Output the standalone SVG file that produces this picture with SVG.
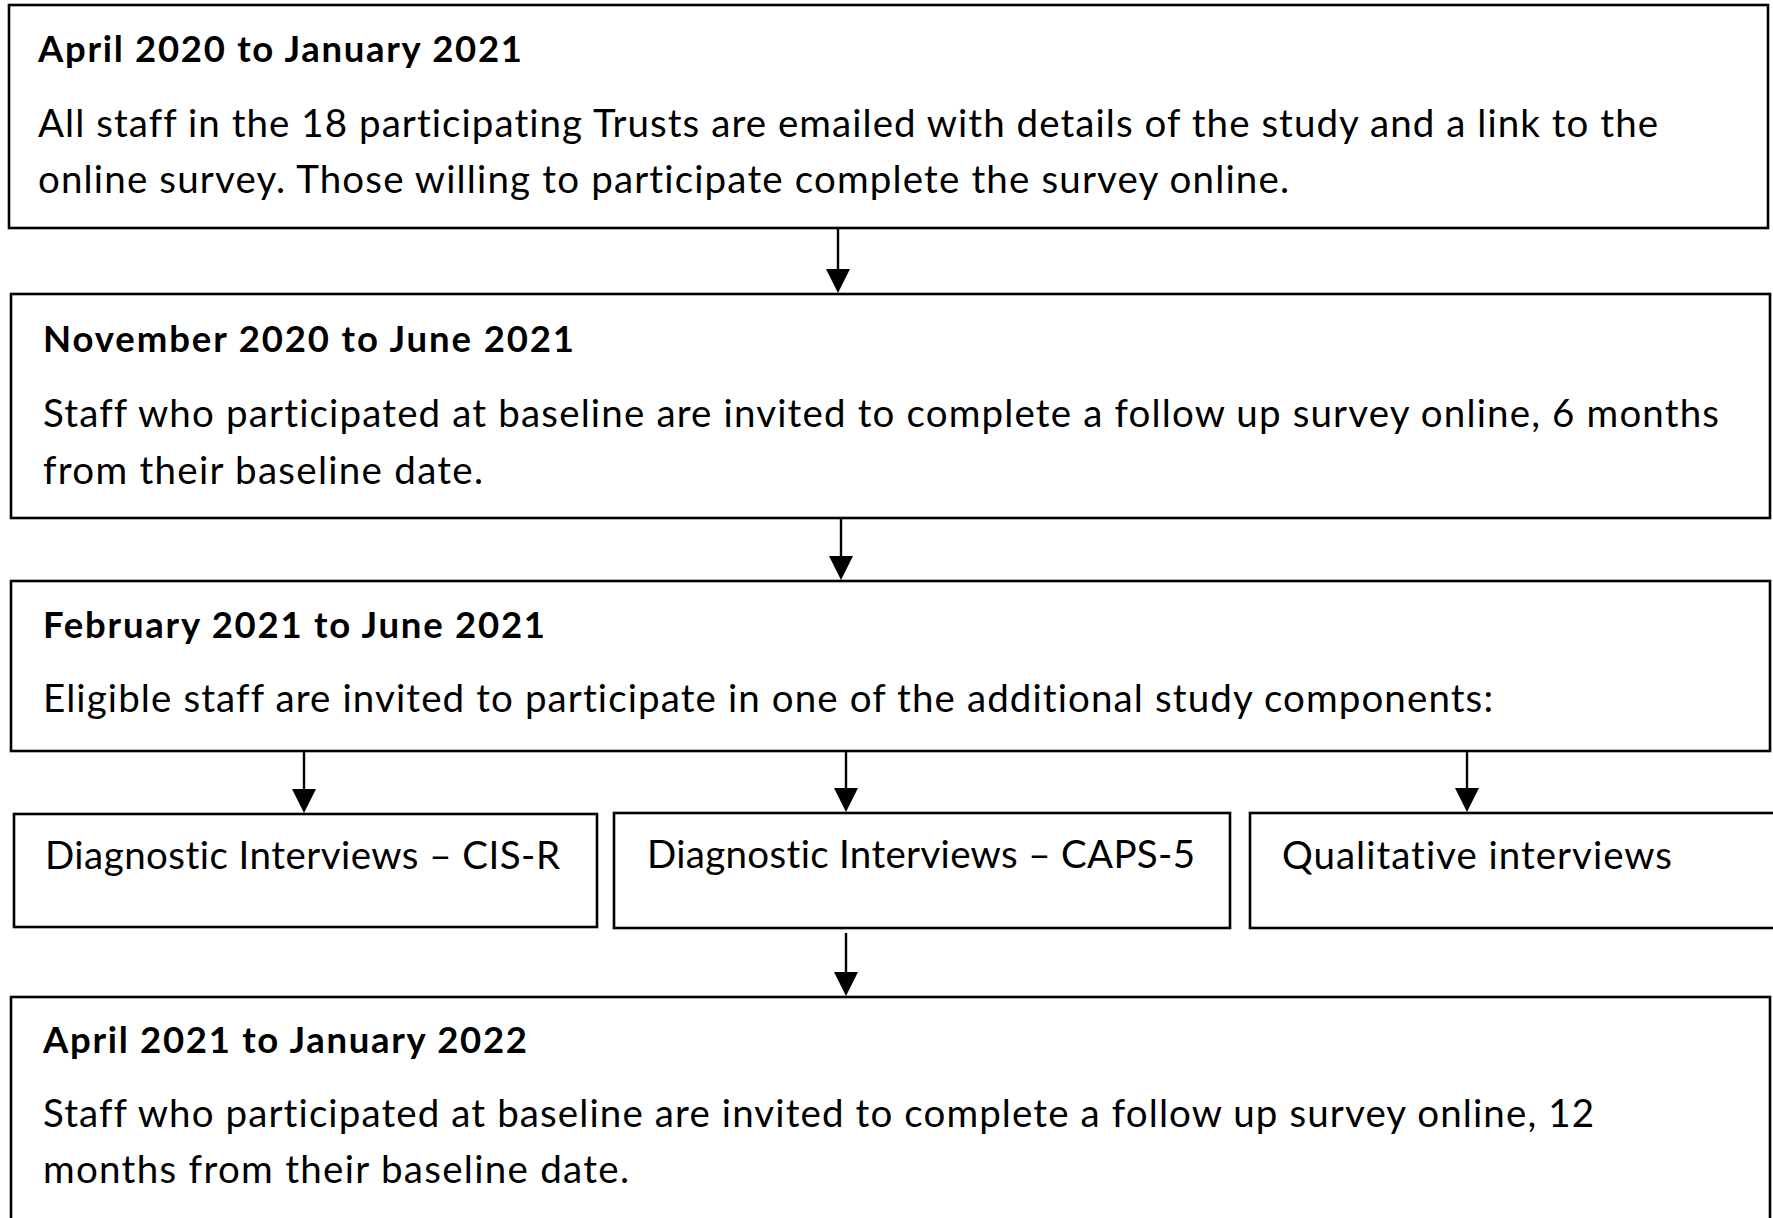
<svg xmlns="http://www.w3.org/2000/svg" width="1773" height="1218" viewBox="0 0 1773 1218">
<style>
.box{fill:#fff;stroke:#000;stroke-width:2.6}
.t{font-family:Lato,"Open Sans","Liberation Sans",sans-serif;font-size:38.5px;fill:#000;font-variant-ligatures:none}
.b{font-weight:bold;font-size:36.5px}
.c{stroke:#000;stroke-width:2.4;fill:none;marker-end:url(#ah)}
</style>
<defs>
<marker id="ah" markerUnits="userSpaceOnUse" markerWidth="24" markerHeight="24" viewBox="0 0 24 24" refX="4" refY="12" orient="auto">
<path d="M0,0 L24,12 L0,24 Z" fill="#000"/>
</marker>
</defs>
<rect width="1773" height="1218" fill="#fff"/>
<g id="n1">
<rect class="box" x="9" y="5" width="1759" height="223"/>
<text class="t b" x="38" y="62" textLength="484" lengthAdjust="spacing">April 2020 to January 2021</text>
<text class="t" x="38" y="137" textLength="1620" lengthAdjust="spacing">All staff in the 18 participating Trusts are emailed with details of the study and a link to the</text>
<text class="t" x="38" y="193" textLength="1251" lengthAdjust="spacing">online survey. Those willing to participate complete the survey online.</text>
</g>
<g id="n2">
<rect class="box" x="11" y="294" width="1759" height="224"/>
<text class="t b" x="43" y="352" textLength="531" lengthAdjust="spacing">November 2020 to June 2021</text>
<text class="t" x="43" y="427" textLength="1676" lengthAdjust="spacing">Staff who participated at baseline are invited to complete a follow up survey online, 6 months</text>
<text class="t" x="43" y="484" textLength="440" lengthAdjust="spacing">from their baseline date.</text>
</g>
<g id="n3">
<rect class="box" x="11" y="581" width="1759" height="170"/>
<text class="t b" x="43" y="638" textLength="502" lengthAdjust="spacing">February 2021 to June 2021</text>
<text class="t" x="43" y="712" textLength="1450" lengthAdjust="spacing">Eligible staff are invited to participate in one of the additional study components:</text>
</g>
<g id="n4">
<rect class="box" x="14" y="814" width="583" height="113"/>
<text class="t" x="45" y="869" textLength="515" lengthAdjust="spacing">Diagnostic Interviews – CIS-R</text>
</g>
<g id="n5">
<rect class="box" x="614" y="813" width="616" height="115"/>
<text class="t" x="647" y="868" textLength="548" lengthAdjust="spacing">Diagnostic Interviews – CAPS-5</text>
</g>
<g id="n6">
<rect class="box" x="1250" y="813" width="530" height="115"/>
<text class="t" x="1282" y="869" textLength="390" lengthAdjust="spacing">Qualitative interviews</text>
</g>
<g id="n7">
<rect class="box" x="11" y="997" width="1759" height="260"/>
<text class="t b" x="43" y="1053" textLength="484" lengthAdjust="spacing">April 2021 to January 2022</text>
<text class="t" x="43" y="1127" textLength="1551" lengthAdjust="spacing">Staff who participated at baseline are invited to complete a follow up survey online, 12</text>
<text class="t" x="43" y="1183" textLength="586" lengthAdjust="spacing">months from their baseline date.</text>
</g>
<g id="connectors">
<line class="c" x1="838" y1="229" x2="838" y2="273"/>
<line class="c" x1="841" y1="518" x2="841" y2="560"/>
<line class="c" x1="304" y1="751" x2="304" y2="793"/>
<line class="c" x1="846" y1="751" x2="846" y2="792"/>
<line class="c" x1="1467" y1="751" x2="1467" y2="792"/>
<line class="c" x1="846" y1="933" x2="846" y2="976"/>
</g>
</svg>
